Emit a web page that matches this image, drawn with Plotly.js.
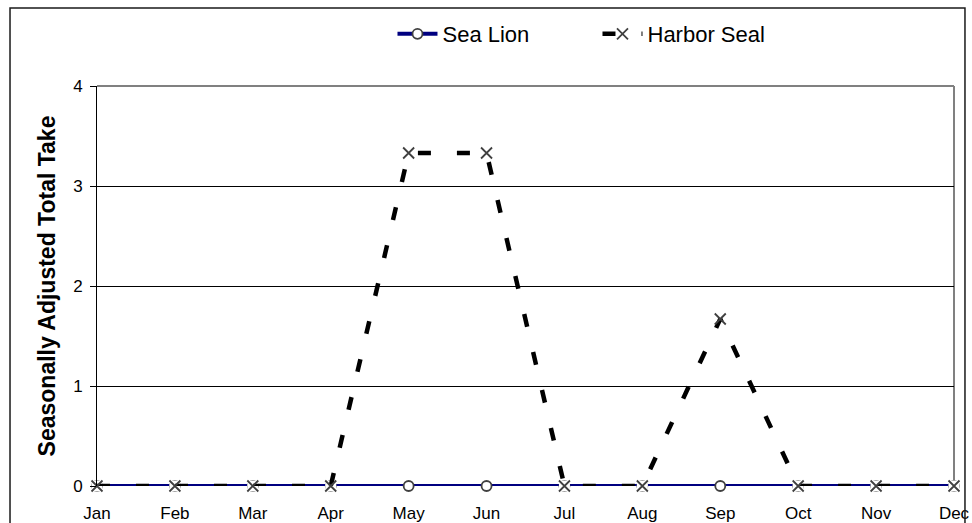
<!DOCTYPE html>
<html>
<head>
<meta charset="utf-8">
<script src="https://cdn.plot.ly/plotly-3.0.1.min.js"></script>
<style>html,body{margin:0;padding:0;background:#fff;}#chart{width:972px;height:523px;}</style>
</head>
<body>
<div id="chart"></div>
<script>
const months = ["Jan","Feb","Mar","Apr","May","Jun","Jul","Aug","Sep","Oct","Nov","Dec"];
const seaLion = [0,0,0,0,0,0,0,0,0,0,0,0];
const harborSeal = [0,0,0,0,3.33,3.33,0,0,1.67,0,0,0];
const yTicks = [0,1,2,3,4];

const font = "Liberation Sans, Arial, sans-serif";

const traces = [
  {
    x: months, y: seaLion, name: "Sea Lion", type: "scatter", mode: "lines+markers",
    line: {color: "#000080", width: 4},
    marker: {symbol: "circle", size: 10, color: "#ffffff", line: {color: "#404040", width: 1.8}},
    cliponaxis: false
  },
  {
    x: months, y: harborSeal, name: "bg", type: "scatter", mode: "markers", showlegend: false,
    marker: {symbol: "square", size: 11, color: "#ffffff", line: {width: 0}},
    hoverinfo: "skip", cliponaxis: false
  },
  {
    x: months, y: harborSeal, name: "Harbor Seal", type: "scatter", mode: "lines+markers",
    line: {color: "#000000", width: 4.5, dash: "13px,26px"},
    marker: {symbol: "x-thin-open", size: 11, color: "#404040", line: {color: "#404040", width: 1.8}},
    cliponaxis: false
  }
];

const layout = {
  width: 972, height: 523,
  margin: {l: 97, r: 18, t: 86, b: 37, pad: 0},
  paper_bgcolor: "#ffffff", plot_bgcolor: "#ffffff",
  font: {family: font, size: 17, color: "#000000"},
  showlegend: true,
  legend: {
    orientation: "h", x: 0.584, xanchor: "center", y: 1.13, yanchor: "middle",
    font: {family: font, size: 22, color: "#000000"},
    bgcolor: "rgba(0,0,0,0)", itemwidth: 40, tracegroupgap: 0,
    entrywidth: 150, entrywidthmode: "pixels"
  },
  xaxis: {
    type: "category", categoryorder: "array", categoryarray: months,
    range: [0, 11], showgrid: false, zeroline: false, showline: false,
    ticks: "", ticklabelstandoff: 15,
    tickfont: {family: font, size: 17, color: "#000000"}
  },
  yaxis: {
    range: [0, 4], tickvals: yTicks, ticktext: yTicks.map(String),
    showgrid: true, gridcolor: "#000000", gridwidth: 1,
    zeroline: false, showline: true, linecolor: "#000000", linewidth: 1,
    ticks: "outside", ticklen: 6, tickcolor: "#000000", tickwidth: 1,
    ticklabelstandoff: 4,
    tickfont: {family: font, size: 17, color: "#000000"},
    title: {text: "Seasonally Adjusted Total Take", standoff: 11,
            font: {family: font, size: 23, color: "#000000", weight: "bold"}}
  },
  shapes: [
    {type: "line", xref: "paper", yref: "paper", x0: 0, x1: 1, y0: 1, y1: 1,
     line: {color: "#808080", width: 2}, layer: "above"},
    {type: "line", xref: "paper", yref: "paper", x0: 1, x1: 1, y0: 0, y1: 1,
     line: {color: "#808080", width: 2}, layer: "below"},
    {type: "rect", xref: "paper", yref: "paper", x0: -0.1015, x1: 1.0128, y0: -0.2, y1: 1.195,
     line: {color: "#1a1a1a", width: 1.5}, fillcolor: "rgba(0,0,0,0)", layer: "above"}
  ]
};

Plotly.newPlot("chart", traces, layout, {displayModeBar: false, staticPlot: true});
</script>
</body>
</html>
